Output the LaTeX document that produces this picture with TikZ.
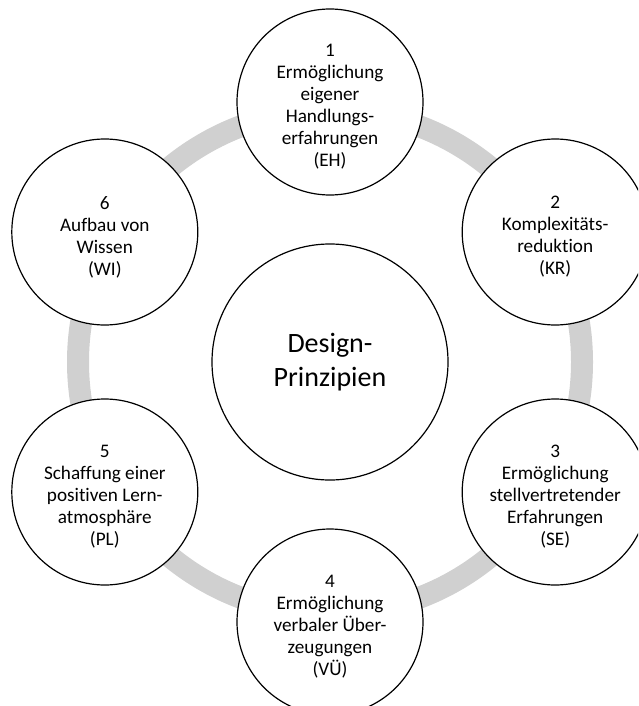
\documentclass[tikz,border=0pt]{standalone}
\usepackage{fontspec}
\setmainfont{Carlito}[Ligatures=NoCommon]
\definecolor{ringgray}{RGB}{208,208,208}
\begin{document}
\begin{tikzpicture}[x=1pt,y=-1pt,
  disc/.style={circle, draw=black, line width=1.2pt, fill=white, minimum size=186pt, inner sep=0pt},
  hubdisc/.style={circle, draw=black, line width=1.2pt, fill=white, minimum size=236pt, inner sep=0pt},
  caption/.style={align=center, inner sep=0pt, yshift=-5pt, font=\fontsize{19.2}{22}\selectfont},
  hubcaption/.style={align=center, inner sep=0pt, font=\fontsize{28}{34}\selectfont},
  ring/.style={draw=ringgray, line width=22pt}]
\useasboundingbox (0,0) rectangle (638,706);
\clip (0,0) rectangle (638,706);
% centre of the cycle and the grey ring behind the principles
\coordinate (c) at (330,362);
\draw[ring] (c) circle[radius=252pt];
% central hub
\node[hubdisc] (hub) at (c) {};
\node[hubcaption] (hub-t) at (hub) {Design-\\Prinzipien};
% the six principles around the ring
\node[disc] (eh) at (330,102) {};
\node[caption] (eh-t) at (eh) {1\\Ermöglichung\\eigener\\Handlungs-\\erfahrungen\\(EH)};
\node[disc] (kr) at (555.2,232) {};
\node[caption] (kr-t) at (kr) {2\\Komplexitäts-\\reduktion\\(KR)};
\node[disc] (se) at (555.2,492) {};
\node[caption] (se-t) at (se) {3\\Ermöglichung\\stellvertretender\\Erfahrungen\\(SE)};
\node[disc] (vu) at (330,622) {};
\node[caption] (vu-t) at (vu) {4\\Ermöglichung\\verbaler Über-\\zeugungen\\(VÜ)};
\node[disc] (pl) at (104.8,492) {};
\node[caption] (pl-t) at (pl) {5\\Schaffung einer\\positiven Lern-\\atmosphäre\\(PL)};
\node[disc] (wi) at (104.8,232) {};
\node[caption] (wi-t) at (wi) {6\\Aufbau von\\Wissen\\(WI)};
\end{tikzpicture}
\end{document}
